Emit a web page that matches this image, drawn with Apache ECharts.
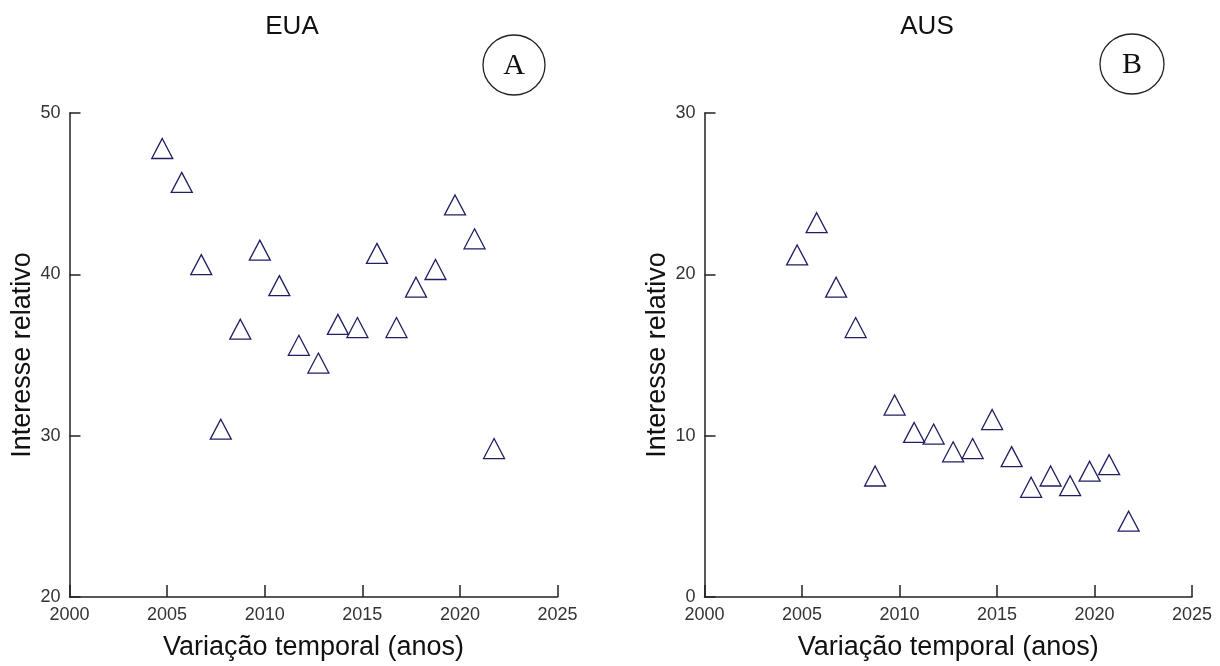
<!DOCTYPE html>
<html>
<head>
<meta charset="utf-8">
<script src="https://cdn.jsdelivr.net/npm/echarts@6/dist/echarts.min.js"></script>
<style>
  html, body { margin: 0; padding: 0; background: #ffffff; }
  #chart { width: 1220px; height: 666px; }
</style>
</head>
<body>
<div id="chart"></div>
<script>
// Relative search interest over time, two countries
const anos = [2004.75, 2005.75, 2006.75, 2007.75, 2008.75, 2009.75, 2010.75, 2011.75, 2012.75,
              2013.75, 2014.75, 2015.75, 2016.75, 2017.75, 2018.75, 2019.75, 2020.75, 2021.75];
const interesseEUA = [47.8, 45.7, 40.6, 30.4, 36.6, 41.5, 39.3, 35.6, 34.5,
                      36.9, 36.7, 41.3, 36.7, 39.2, 40.3, 44.3, 42.2, 29.2];
const interesseAUS = [21.2, 23.2, 19.2, 16.7, 7.5, 11.9, 10.2, 10.1, 9.0,
                      9.2, 11.0, 8.7, 6.8, 7.5, 6.9, 7.8, 8.2, 4.7];
const xTicks = [2000, 2025, 5];           // min, max, interval
const yTicksEUA = [20, 50, 10];
const yTicksAUS = [0, 30, 10];
const titulos = ['EUA', 'AUS'];
const paineis = ['A', 'B'];
const nomeX = 'Variação temporal (anos)';
const nomeY = 'Interesse relativo';

const ink = '#222222';
const markColor = '#1f1f62';
const sans = 'Liberation Sans, Arial, sans-serif';

function pairs(xs, ys) { return xs.map((x, i) => [x, ys[i]]); }

function xAxisFor(gridIndex) {
  return {
    type: 'value', gridIndex: gridIndex,
    min: xTicks[0], max: xTicks[1], interval: xTicks[2],
    name: nomeX, nameLocation: 'middle', nameGap: 37,
    nameTextStyle: { fontFamily: sans, fontSize: 27, color: '#111' },
    axisLine: { show: true, onZero: false, lineStyle: { color: ink, width: 1.5 } },
    axisTick: { show: true, inside: true, length: 12, lineStyle: { color: ink, width: 1.5 } },
    axisLabel: { margin: 9, fontFamily: sans, fontSize: 18, color: '#333',
                 formatter: v => String(v) },
    splitLine: { show: false }
  };
}
function yAxisFor(gridIndex, t) {
  return {
    type: 'value', gridIndex: gridIndex,
    min: t[0], max: t[1], interval: t[2],
    name: nomeY, nameLocation: 'middle', nameGap: 33,
    nameTextStyle: { fontFamily: sans, fontSize: 27, color: '#111' },
    axisLine: { show: true, onZero: false, lineStyle: { color: ink, width: 1.5 } },
    axisTick: { show: true, inside: true, length: 11, lineStyle: { color: ink, width: 1.5 } },
    axisLabel: { margin: 9, fontFamily: sans, fontSize: 18, color: '#333',
                 formatter: v => String(v) },
    splitLine: { show: false }
  };
}
function scatterFor(idx, data) {
  return {
    type: 'scatter', xAxisIndex: idx, yAxisIndex: idx,
    data: data, symbol: 'triangle', symbolSize: [21, 20],
    itemStyle: { color: 'rgba(0,0,0,0)', borderColor: markColor, borderWidth: 1.3, opacity: 1 },
    emphasis: { disabled: true }, silent: true
  };
}

const chart = echarts.init(document.getElementById('chart'), null, { renderer: 'canvas' });
chart.setOption({
  backgroundColor: '#ffffff',
  animation: false,
  title: [
    { text: titulos[0], left: 287, top: 9, textAlign: 'center',
      textStyle: { fontFamily: sans, fontSize: 26, fontWeight: 'normal', color: '#111' } },
    { text: titulos[1], left: 922, top: 9, textAlign: 'center',
      textStyle: { fontFamily: sans, fontSize: 26, fontWeight: 'normal', color: '#111' } }
  ],
  grid: [
    { left: 69.5, top: 113, width: 488, height: 485 },
    { left: 704.5, top: 113, width: 487.5, height: 486 }
  ],
  xAxis: [xAxisFor(0), xAxisFor(1)],
  yAxis: [yAxisFor(0, yTicksEUA), yAxisFor(1, yTicksAUS)],
  series: [scatterFor(0, pairs(anos, interesseEUA)), scatterFor(1, pairs(anos, interesseAUS))],
  graphic: [
    { type: 'ellipse', shape: { cx: 514, cy: 65, rx: 31, ry: 30 },
      style: { fill: 'none', stroke: '#222', lineWidth: 1.3 } },
    { type: 'text', x: 514, y: 66,
      style: { text: paineis[0], fontFamily: 'Liberation Serif, Times New Roman, serif', fontSize: 30,
               fill: '#111', align: 'center', verticalAlign: 'middle' } },
    { type: 'ellipse', shape: { cx: 1132, cy: 64, rx: 32, ry: 30 },
      style: { fill: 'none', stroke: '#222', lineWidth: 1.3 } },
    { type: 'text', x: 1132, y: 65,
      style: { text: paineis[1], fontFamily: 'Liberation Serif, Times New Roman, serif', fontSize: 30,
               fill: '#111', align: 'center', verticalAlign: 'middle' } }
  ]
});
</script>
</body>
</html>
